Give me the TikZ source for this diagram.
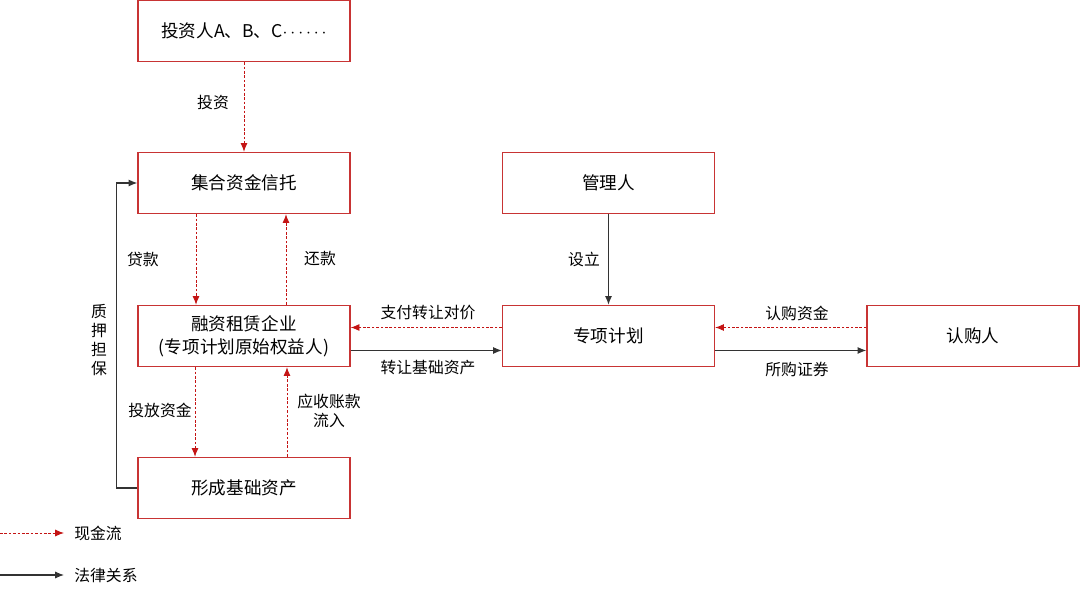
\documentclass[tikz,border=0pt]{standalone}
\usepackage{fontspec}
\setmainfont{Noto Sans CJK SC}
\usetikzlibrary{arrows.meta}
\definecolor{boxred}{RGB}{200,52,52}
\definecolor{cashred}{RGB}{196,20,20}
\tikzset{
  box/.style={draw=boxred, line width=0.8pt, minimum width=4.24cm, minimum height=1.22cm,
    inner sep=0pt, align=center, font=\fontsize{10}{13}\selectfont},
  lbl/.style={inner sep=0pt, align=center, font=\fontsize{9}{10.8}\selectfont},
  cash/.style={draw=cashred, line width=0.5pt, dash pattern=on 1.5pt off 1pt,
    -{Latex[length=5pt,width=4pt]}},
  legal/.style={draw=black!80, line width=0.6pt, -{Latex[length=5pt,width=4pt]}}
}
\begin{document}
\begin{tikzpicture}[x=0.02cm, y=-0.02cm]
  \useasboundingbox (0,0) rectangle (1080,594);
  \draw
    (244,31) node[box] (inv) {投资人A、B、C$\cdots\cdots$}
    (244,183) node[box] (trust) {集合资金信托}
    (244,336) node[box] (lease) {融资租赁企业\\(专项计划原始权益人)}
    (244,488) node[box] (asset) {形成基础资产}
    (608.5,183) node[box] (mgr) {管理人}
    (608.5,336) node[box] (spv) {专项计划}
    (973,336) node[box] (sub) {认购人};
  \draw
    (213,103) node[lbl] (invest) {投资}
    (143,259) node[lbl] (loan) {贷款}
    (320,259) node[lbl] (repay) {还款}
    (99,340) node[lbl] (pledge) {质\\押\\担\\保}
    (160,410) node[lbl] (lend) {投放资金}
    (329,411) node[lbl] (recv) {应收账款\\流入}
    (428,313) node[lbl] (pay) {支付转让对价}
    (428,368) node[lbl] (transfer) {转让基础资产}
    (584,259) node[lbl] (setup) {设立}
    (797,313) node[lbl] (subfund) {认购资金}
    (797,369) node[lbl] (secs) {所购证券};
  \begin{scope}
    \draw[cash] (inv) to (trust);
    \draw[cash] ([xshift=-0.96cm]trust.south) to ([xshift=-0.96cm]lease.north);
    \draw[cash] ([xshift=0.84cm]lease.north) to ([xshift=0.84cm]trust.south);
    \draw[cash] ([xshift=-0.98cm]lease.south) to ([xshift=-0.98cm]asset.north);
    \draw[cash] ([xshift=0.86cm]asset.north) to ([xshift=0.86cm]lease.south);
    \draw[cash] ([yshift=0.17cm]spv.west) to ([yshift=0.17cm]lease.east);
    \draw[legal] ([yshift=-0.29cm]lease.east) to ([yshift=-0.29cm]spv.west);
    \draw[cash] ([yshift=0.17cm]sub.west) to ([yshift=0.17cm]spv.east);
    \draw[legal] ([yshift=-0.29cm]spv.east) to ([yshift=-0.29cm]sub.west);
    \draw[legal] (mgr) to (spv);
    \draw[legal] (asset.west) -- ++(-21,0) |- (trust.west);
  \end{scope}
  \coordinate (cashA) at (0,533);
  \coordinate (cashB) at (64,533);
  \coordinate (legalA) at (0,575);
  \coordinate (legalB) at (64,575);
  \draw
    (74,533) node[lbl, anchor=west] (cashkey) {现金流}
    (74,575) node[lbl, anchor=west] (legalkey) {法律关系};
  \draw[cash] (cashA) to (cashB);
  \draw[legal] (legalA) to (legalB);
\end{tikzpicture}
\end{document}
